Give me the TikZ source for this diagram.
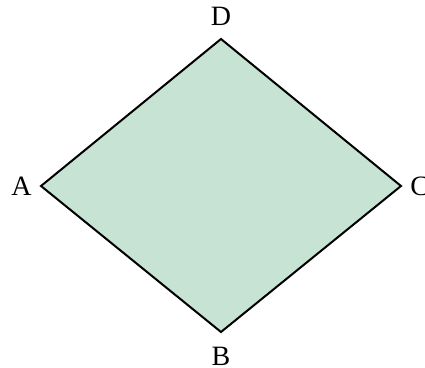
\documentclass[tikz,border=0pt]{standalone}
\usepackage{fontspec}
\setmainfont{Liberation Serif}
\usetikzlibrary{positioning}
\definecolor{rhombFill}{HTML}{C6E3D3}
\begin{document}
\begin{tikzpicture}[
  x=0.5pt,y=-0.5pt,
  vlabel/.style={inner sep=0pt,font=\fontsize{14}{16}\selectfont},
  rhomb/.style={draw=black,line width=1pt,line join=miter,fill=rhombFill}]
  \useasboundingbox (0,0) rectangle (425,368);
  \coordinate (a) at (41,186);
  \coordinate (d) at (221,39);
  \coordinate (c) at (401,186);
  \coordinate (b) at (221,332);
  \filldraw[rhomb] (a) -- (d) -- (c) -- (b) -- cycle;
  \node[vlabel,left=4.5pt of a] (la) {A};
  \node[vlabel,above=6.5pt of d] (ld) {D};
  \node[vlabel,right=4.5pt of c] (lc) {C};
  \node[vlabel,below=7.5pt of b] (lb) {B};
\end{tikzpicture}
\end{document}
